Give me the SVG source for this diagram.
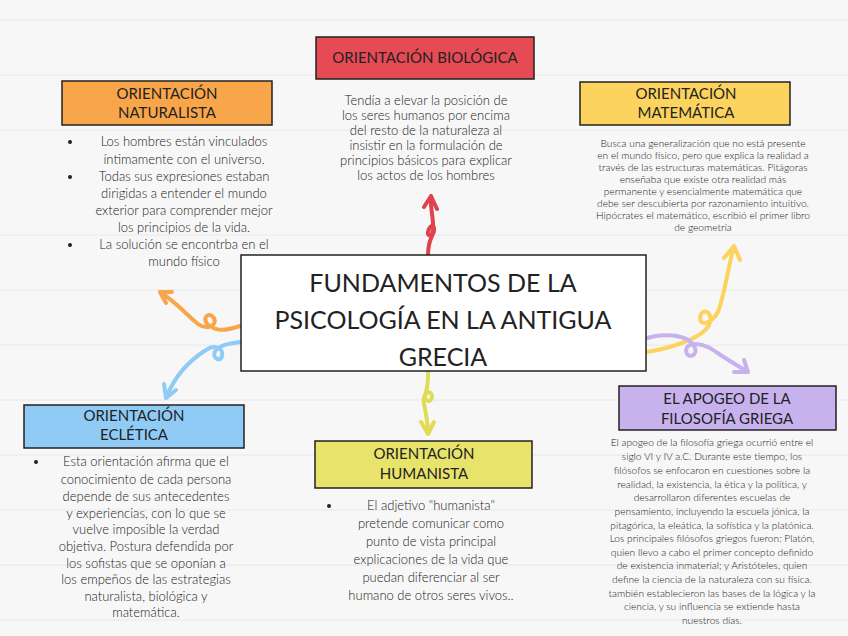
<svg xmlns="http://www.w3.org/2000/svg" width="848" height="636" viewBox="0 0 848 636">
<style>
.t{font-family:Lato,"Noto Sans",sans-serif;fill:#222;text-anchor:middle;font-weight:300}
.h{font-size:15px;font-weight:400}
.b{font-size:13px}
.s{font-size:10.2px}
.box{stroke:#222;stroke-width:1.5}
.arr{fill:none;stroke-width:4;stroke-linecap:round;stroke-linejoin:round}
</style>
<rect width="848" height="636" fill="#f7f7f7"/>
<g stroke="#e8e8e8" stroke-width="1">
<line x1="0" y1="20" x2="848" y2="20"/><line x1="0" y1="75" x2="848" y2="75"/><line x1="0" y1="130" x2="848" y2="130"/><line x1="0" y1="235" x2="848" y2="235"/><line x1="0" y1="290" x2="848" y2="290"/><line x1="0" y1="345" x2="848" y2="345"/><line x1="0" y1="400" x2="848" y2="400"/><line x1="0" y1="455" x2="848" y2="455"/><line x1="0" y1="510" x2="848" y2="510"/><line x1="0" y1="565" x2="848" y2="565"/><line x1="0" y1="620" x2="848" y2="620"/>
</g>
<g id="connectors">
<path class="arr" stroke="#e0434f" d="M428 255 C428 245 430 240 432 236 C438 226 430 222 428 232 C427 236 432 238 433 230 C434 220 430 208 431 196 M424 207 L431 196 L437 209"/>
<path class="arr" stroke="#f9a64a" d="M240 326 C228 330 218 332 210 326 C200 320 208 310 214 318 C218 326 206 330 198 324 C188 316 176 302 160 292 M160 292 L172 292 M160 292 L166 303"/>
<path class="arr" stroke="#8fcbf5" d="M240 342 C230 344 222 344 216 350 C210 356 220 364 222 356 C224 348 214 344 206 350 C190 360 175 375 166 398 M166 398 L164 384 M166 398 L176 390"/>
<path class="arr" stroke="#fbd35e" d="M647 352 C660 350 706 340 710 322 C713 310 700 308 700 318 C700 328 716 322 720 306 C726 286 728 268 734 246 M734 246 L724 258 M734 246 L740 260"/>
<path class="arr" stroke="#c8b2ee" d="M642 340 C660 332 688 334 694 346 C700 356 686 360 686 350 C688 340 706 344 716 352 C728 360 738 366 748 372 M748 372 L734 372 M748 372 L744 360"/>
<path class="arr" stroke="#e0dc55" d="M428 372 C428 382 428 386 426 392 C422 402 432 404 432 396 C430 388 422 394 424 404 C426 414 428 422 428 434 M421 422 L428 434 L434 422"/>
</g>
<g id="central"><rect x="241" y="255" width="405" height="116" fill="#fff" class="box"/>
<text class="t" style="font-weight:400" font-size="25" x="443" y="292">FUNDAMENTOS DE LA</text>
<text class="t" style="font-weight:400" font-size="25" x="443" y="329">PSICOLOGÍA EN LA ANTIGUA</text>
<text class="t" style="font-weight:400" font-size="25" x="443" y="366">GRECIA</text></g>
<g id="biologica"><rect x="316" y="37" width="218" height="42" fill="#e54a55" class="box"/>
<text class="t h" x="425" y="63">ORIENTACIÓN BIOLÓGICA</text>
<text class="t b" font-size="12"><tspan x="426" y="105">Tendía a elevar la posición de</tspan><tspan x="426" y="120">los seres humanos por encima</tspan><tspan x="426" y="135">del resto de la naturaleza al</tspan><tspan x="426" y="150">insistir en la formulación de</tspan><tspan x="426" y="165">principios básicos para explicar</tspan><tspan x="426" y="180">los actos de los hombres</tspan></text></g>
<g id="naturalista"><rect x="62" y="81" width="210" height="44" fill="#f9a64a" class="box"/>
<text class="t h"><tspan x="167" y="99">ORIENTACIÓN</tspan><tspan x="167" y="118">NATURALISTA</tspan></text>
<g class="t b"><circle cx="70" cy="142" r="2" fill="#222"/><circle cx="70" cy="177" r="2" fill="#222"/><circle cx="70" cy="245" r="2" fill="#222"/>
<text><tspan x="184" y="146">Los hombres están vinculados</tspan><tspan x="184" y="164">íntimamente con el universo.</tspan><tspan x="184" y="181">Todas sus expresiones estaban</tspan><tspan x="184" y="198">dirigidas a entender el mundo</tspan><tspan x="184" y="215">exterior para comprender mejor</tspan><tspan x="184" y="232">los principios de la vida.</tspan><tspan x="184" y="249">La solución se encontrba en el</tspan><tspan x="184" y="266">mundo físico</tspan></text></g></g>
<g id="matematica"><rect x="580" y="82" width="210" height="43" fill="#fbd35e" class="box"/>
<text class="t h"><tspan x="686" y="99">ORIENTACIÓN</tspan><tspan x="686" y="118">MATEMÁTICA</tspan></text>
<text class="t s"><tspan x="703" y="147">Busca una generalización que no está presente</tspan><tspan x="703" y="159">en el mundo físico, pero que explica la realidad a</tspan><tspan x="703" y="171">través de las estructuras matemáticas. Pitágoras</tspan><tspan x="703" y="183">enseñaba que existe otra realidad más</tspan><tspan x="703" y="195">permanente y esencialmente matemática que</tspan><tspan x="703" y="207">debe ser descubierta por razonamiento intuitivo.</tspan><tspan x="703" y="219">Hipócrates el matemático, escribió el primer libro</tspan><tspan x="703" y="231">de geometría</tspan></text></g>
<g id="ecletica"><rect x="24" y="405" width="220" height="43" fill="#8fcbf5" class="box"/>
<text class="t h"><tspan x="134" y="421">ORIENTACIÓN</tspan><tspan x="134" y="440">ECLÉTICA</tspan></text>
<circle cx="36" cy="462" r="2" fill="#222"/>
<text class="t b" font-size="12"><tspan x="146" y="466">Esta orientación afirma que el</tspan><tspan x="146" y="484">conocimiento de cada persona</tspan><tspan x="146" y="501">depende de sus antecedentes</tspan><tspan x="146" y="518">y experiencias, con lo que se</tspan><tspan x="146" y="534">vuelve imposible la verdad</tspan><tspan x="146" y="551">objetiva. Postura defendida por</tspan><tspan x="146" y="568">los  sofistas que se oponían a</tspan><tspan x="146" y="584">los empeños de las estrategias</tspan><tspan x="146" y="601">naturalista, biológica y</tspan><tspan x="146" y="617">matemática.</tspan></text></g>
<g id="humanista"><rect x="315" y="441" width="217" height="47" fill="#e8e36a" class="box"/>
<text class="t h"><tspan x="424" y="459">ORIENTACIÓN</tspan><tspan x="424" y="479">HUMANISTA</tspan></text>
<circle cx="329" cy="506" r="2" fill="#222"/>
<text class="t b" font-size="13.5"><tspan x="431" y="510">El adjetivo "humanista"</tspan><tspan x="431" y="528">pretende comunicar como</tspan><tspan x="431" y="546">punto de vista principal</tspan><tspan x="431" y="564">explicaciones de la vida que</tspan><tspan x="431" y="582">puedan diferenciar al ser</tspan><tspan x="431" y="600">humano de otros seres vivos..</tspan></text></g>
<g id="apogeo"><rect x="619" y="386" width="217" height="44" fill="#c8b2ee" class="box"/>
<text class="t h"><tspan x="727" y="404">EL APOGEO DE LA</tspan><tspan x="727" y="424">FILOSOFÍA GRIEGA</tspan></text>
<text class="t s"><tspan x="712" y="446">El apogeo de la filosofía griega ocurrió entre el</tspan><tspan x="712" y="460">siglo VI y IV a.C. Durante este tiempo, los</tspan><tspan x="712" y="474">filósofos se enfocaron en cuestiones sobre la</tspan><tspan x="712" y="488">realidad, la existencia, la ética y la política, y</tspan><tspan x="712" y="501">desarrollaron diferentes escuelas de</tspan><tspan x="712" y="515">pensamiento, incluyendo la escuela jónica, la</tspan><tspan x="712" y="529">pitagórica, la eleática, la sofística y la platónica.</tspan><tspan x="712" y="542">Los principales filósofos griegos fueron: Platón,</tspan><tspan x="712" y="556">quien llevo a cabo el primer concepto definido</tspan><tspan x="712" y="569">de existencia inmaterial; y  Aristóteles, quien</tspan><tspan x="712" y="583">define la ciencia de la naturaleza con su física.</tspan><tspan x="712" y="597">también establecieron las bases de la lógica y la</tspan><tspan x="712" y="610">ciencia, y su influencia se extiende hasta</tspan><tspan x="712" y="624">nuestros días.</tspan></text></g>
</svg>
